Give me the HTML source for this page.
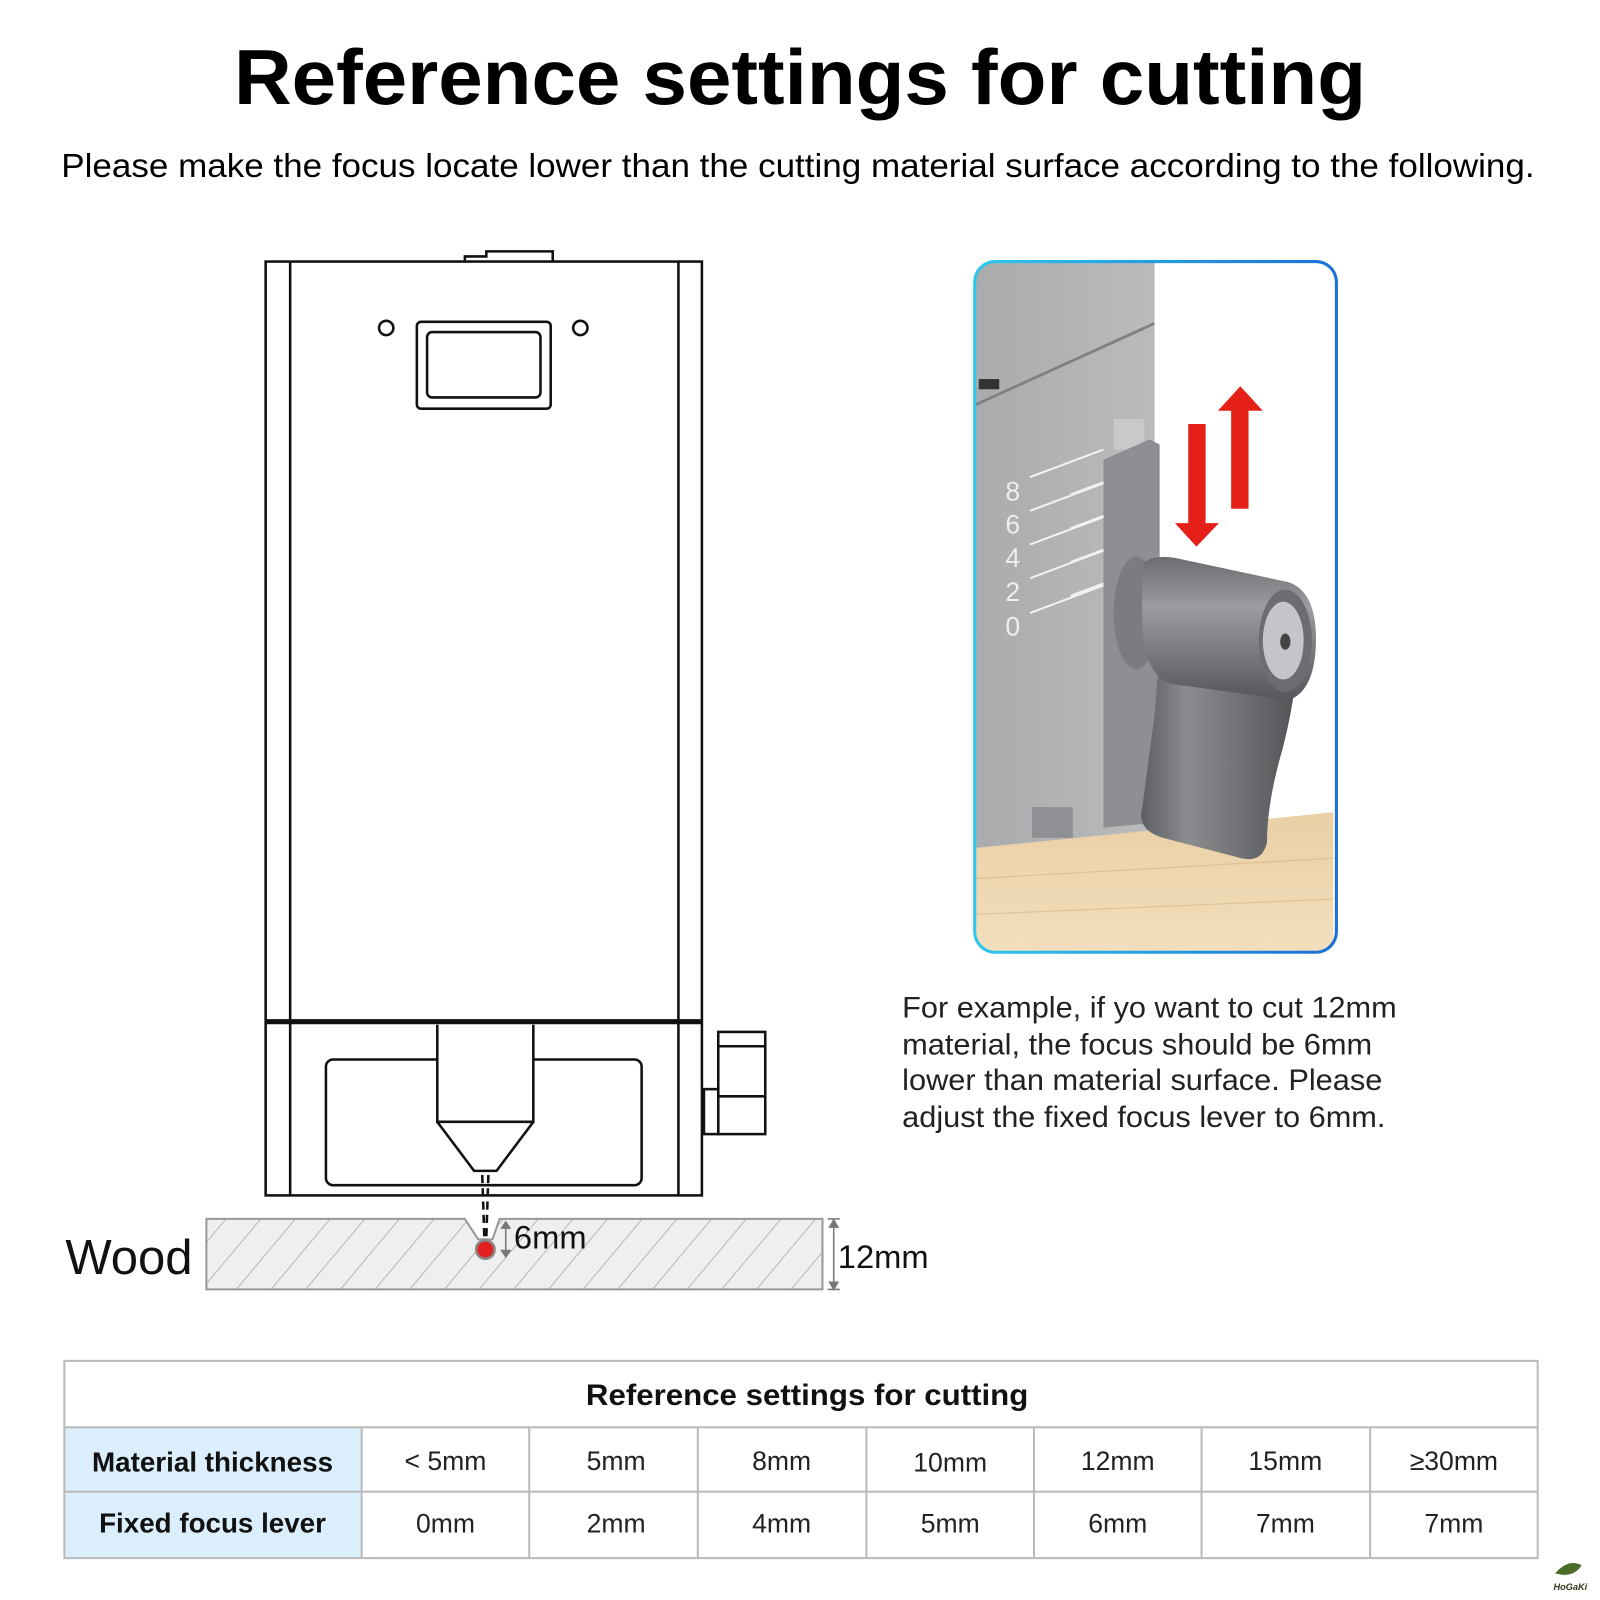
<!DOCTYPE html>
<html><head><meta charset="utf-8"><style>
html,body{margin:0;padding:0;background:#fff;}
svg{display:block;}
text{font-family:"Liberation Sans",Arial,sans-serif;}
</style></head><body>
<svg width="1600" height="1600" viewBox="0 0 1566 1566" xmlns="http://www.w3.org/2000/svg">
<defs>
<pattern id="hatch" width="26" height="26" patternUnits="userSpaceOnUse" patternTransform="rotate(40)">
<rect width="26" height="26" fill="#efefef"/><line x1="0" y1="0" x2="0" y2="26" stroke="#9a9a9a" stroke-width="1.3"/>
</pattern>
<linearGradient id="metal" x1="0" y1="0" x2="1" y2="0"><stop offset="0" stop-color="#a9abad"/><stop offset="1" stop-color="#b9bbbd"/></linearGradient>
<linearGradient id="wood" x1="0" y1="0" x2="0" y2="1"><stop offset="0" stop-color="#e9cfa6"/><stop offset="1" stop-color="#f3dfbd"/></linearGradient>
<linearGradient id="knob" x1="0" y1="0" x2="1" y2="0"><stop offset="0" stop-color="#5d5f62"/><stop offset="0.3" stop-color="#8a8c8f"/><stop offset="0.7" stop-color="#6a6c6f"/><stop offset="1" stop-color="#505255"/></linearGradient>
<linearGradient id="cyl" x1="0" y1="0" x2="0" y2="1"><stop offset="0" stop-color="#6a6c6f"/><stop offset="0.35" stop-color="#9a9c9f"/><stop offset="1" stop-color="#55575a"/></linearGradient>
<linearGradient id="blue" x1="0" y1="0" x2="1" y2="0"><stop offset="0" stop-color="#2ec8ee"/><stop offset="1" stop-color="#1a6fd6"/></linearGradient>
<clipPath id="pc"><rect x="954" y="256" width="354" height="676" rx="20"/></clipPath>
</defs>

<text x="783" y="102" text-anchor="middle" font-size="76" font-weight="bold" textLength="1108" lengthAdjust="spacingAndGlyphs">Reference settings for cutting</text>
<text x="781" y="173" text-anchor="middle" font-size="33" textLength="1442" lengthAdjust="spacingAndGlyphs">Please make the focus locate lower than the cutting material surface according to the following.</text>

<!-- device -->
<g fill="none" stroke="#111" stroke-width="2.5">
<path d="M455 256 V251 H476 V246 H541 V256"/>
<rect x="260" y="256" width="427" height="914"/>
<line x1="284" y1="256" x2="284" y2="1170"/>
<line x1="664" y1="256" x2="664" y2="1170"/>
<circle cx="378" cy="321" r="7"/><circle cx="568" cy="321" r="7"/>
<rect x="408" y="315" width="131" height="85" rx="4"/>
<rect x="418" y="325" width="111" height="64" rx="5"/>
<rect x="319" y="1037" width="309" height="123" rx="7"/>
<path d="M428 1003 V1098 H522 V1003 M428 1098 L464 1146 H486 L522 1098" fill="#fff"/>
<rect x="703" y="1010" width="46" height="100"/>
<line x1="703" y1="1024" x2="749" y2="1024"/>
<line x1="703" y1="1073" x2="749" y2="1073"/>
<rect x="689" y="1066" width="14" height="44"/>
</g>
<line x1="260" y1="1000" x2="687" y2="1000" stroke="#111" stroke-width="5"/>
<line x1="721" y1="1041" x2="861" y2="1041" stroke="url(#blue)" stroke-width="3"/>
<g stroke="#111" stroke-width="2.5" stroke-dasharray="8,5">
<line x1="472" y1="1150" x2="474" y2="1210"/><line x1="478" y1="1150" x2="476" y2="1210"/>
</g>

<!-- wood -->
<path d="M202 1193 H455 L468 1213 H482 L489 1193 H805 V1262 H202 Z" fill="url(#hatch)" stroke="#999" stroke-width="2"/>
<circle cx="475" cy="1223" r="9" fill="#e32020" stroke="#888" stroke-width="2.5"/>
<g stroke="#777" stroke-width="1.5" fill="#777">
<line x1="495" y1="1198" x2="495" y2="1228"/><path d="M491 1202 L495 1196 L499 1202Z M491 1224 L495 1230 L499 1224Z"/>
<line x1="816" y1="1196" x2="816" y2="1260"/><path d="M812 1201 L816 1194 L820 1201Z M812 1255 L816 1262 L820 1255Z"/>
<line x1="810" y1="1193" x2="822" y2="1193"/><line x1="810" y1="1262" x2="822" y2="1262"/>
</g>
<text x="503" y="1222" font-size="32" fill="#111">6mm</text>
<text x="820" y="1241" font-size="32" fill="#111">12mm</text>
<text x="64" y="1247" font-size="48" fill="#111">Wood</text>

<!-- photo -->
<g clip-path="url(#pc)">
<rect x="954" y="256" width="354" height="676" fill="#fff"/>
<rect x="954" y="256" width="176" height="580" fill="url(#metal)"/>
<path d="M954 395 L1130 315 V318 L954 398Z" fill="#7e8083"/>
<rect x="958" y="371" width="20" height="10" fill="#333"/>
<path d="M954 830 L1305 795 V932 H954Z" fill="url(#wood)"/>
<g stroke="#d8b88a" stroke-width="1.2" opacity="0.7"><line x1="954" y1="860" x2="1305" y2="840"/><line x1="954" y1="895" x2="1305" y2="880"/></g>
<rect x="1010" y="790" width="40" height="30" fill="#8e9093"/>
<rect x="1090" y="410" width="30" height="30" fill="#c8c9cb"/>
<path d="M1080 450 L1125 430 L1135 435 V805 L1080 810Z" fill="#8d8f92"/>
<g stroke="#f2f2f2" stroke-width="2">
<line x1="1008" y1="467" x2="1080" y2="440"/><line x1="1008" y1="500" x2="1080" y2="473"/><line x1="1008" y1="533" x2="1080" y2="506"/><line x1="1008" y1="566" x2="1080" y2="539"/><line x1="1008" y1="600" x2="1080" y2="573"/>
<line x1="1048" y1="484" x2="1080" y2="472"/><line x1="1048" y1="517" x2="1080" y2="505"/><line x1="1048" y1="550" x2="1080" y2="538"/><line x1="1048" y1="583" x2="1080" y2="571"/>
</g>
<g fill="#eee" font-size="26"><text x="984" y="490">8</text><text x="984" y="522">6</text><text x="984" y="555">4</text><text x="984" y="588">2</text><text x="984" y="622">0</text></g>
<!-- knob paddle -->
<path d="M1135 640 L1270 650 Q1265 700 1252 745 Q1240 790 1240 825 Q1235 845 1215 840 L1138 820 Q1112 812 1118 790 L1130 700Z" fill="url(#knob)"/>
<!-- collar -->
<ellipse cx="1112" cy="600" rx="22" ry="55" fill="#7a7c7f"/>
<!-- cylinder -->
<path d="M1120 550 Q1130 543 1150 546 L1262 570 Q1288 580 1288 625 Q1288 675 1262 685 L1150 670 Q1120 665 1118 610 Q1117 565 1120 550Z" fill="url(#cyl)"/>
<ellipse cx="1258" cy="627" rx="26" ry="50" fill="#6b6d70"/>
<ellipse cx="1256" cy="627" rx="20" ry="38" fill="#c3c5c8"/>
<ellipse cx="1258" cy="628" rx="5" ry="8" fill="#444"/>
<path d="M1163 415 H1180 V512 H1193 L1171 535 L1150 512 H1163Z" fill="#e52019"/>
<path d="M1205 498 H1222 V402 H1236 L1214 378 L1192 402 H1205Z" fill="#e52019"/>
</g>
<rect x="954" y="256" width="354" height="676" rx="20" fill="none" stroke="url(#blue)" stroke-width="3"/>

<g font-size="29" fill="#222">
<text x="883" y="996" textLength="484" lengthAdjust="spacingAndGlyphs">For example, if yo want to cut 12mm</text>
<text x="883" y="1032" textLength="460" lengthAdjust="spacingAndGlyphs">material, the focus should be 6mm</text>
<text x="883" y="1067" textLength="470" lengthAdjust="spacingAndGlyphs">lower than material surface. Please</text>
<text x="883" y="1103" textLength="473" lengthAdjust="spacingAndGlyphs">adjust the fixed focus lever to 6mm.</text>
</g>

<!-- table -->
<rect x="63" y="1397" width="291" height="128" fill="#dbeefc"/>
<g stroke="#bbb" stroke-width="2" fill="none">
<rect x="63" y="1332" width="1442" height="193"/>
<line x1="63" y1="1397" x2="1505" y2="1397"/><line x1="63" y1="1460" x2="1505" y2="1460"/>
<line x1="354" y1="1397" x2="354" y2="1525"/><line x1="518" y1="1397" x2="518" y2="1525"/><line x1="683" y1="1397" x2="683" y2="1525"/><line x1="848" y1="1397" x2="848" y2="1525"/><line x1="1012" y1="1397" x2="1012" y2="1525"/><line x1="1176" y1="1397" x2="1176" y2="1525"/><line x1="1341" y1="1397" x2="1341" y2="1525"/>
</g>
<text x="790" y="1375" text-anchor="middle" font-size="29" font-weight="bold" fill="#111" textLength="433" lengthAdjust="spacingAndGlyphs">Reference settings for cutting</text>
<g font-size="27" font-weight="bold" fill="#111" text-anchor="middle"><text x="208" y="1440" textLength="236" lengthAdjust="spacingAndGlyphs">Material thickness</text><text x="208" y="1500" textLength="222" lengthAdjust="spacingAndGlyphs">Fixed focus lever</text></g>
<g font-size="26" fill="#222" text-anchor="middle">
<text x="436" y="1439">&lt; 5mm</text><text x="603" y="1439">5mm</text><text x="765" y="1439">8mm</text><text x="930" y="1440">10mm</text><text x="1094" y="1439">12mm</text><text x="1258" y="1439">15mm</text><text x="1423" y="1439">≥30mm</text>
<text x="436" y="1500">0mm</text><text x="603" y="1500">2mm</text><text x="765" y="1500">4mm</text><text x="930" y="1500">5mm</text><text x="1094" y="1500">6mm</text><text x="1258" y="1500">7mm</text><text x="1423" y="1500">7mm</text>
</g>
<path d="M1522 1540 Q1535 1525 1548 1532 Q1540 1545 1522 1540Z" fill="#4a6b2a"/>
<text x="1537" y="1556" text-anchor="middle" font-size="9" font-weight="bold" font-style="italic" fill="#2d3a1a">HoGaKi</text>
</svg>
</body></html>
